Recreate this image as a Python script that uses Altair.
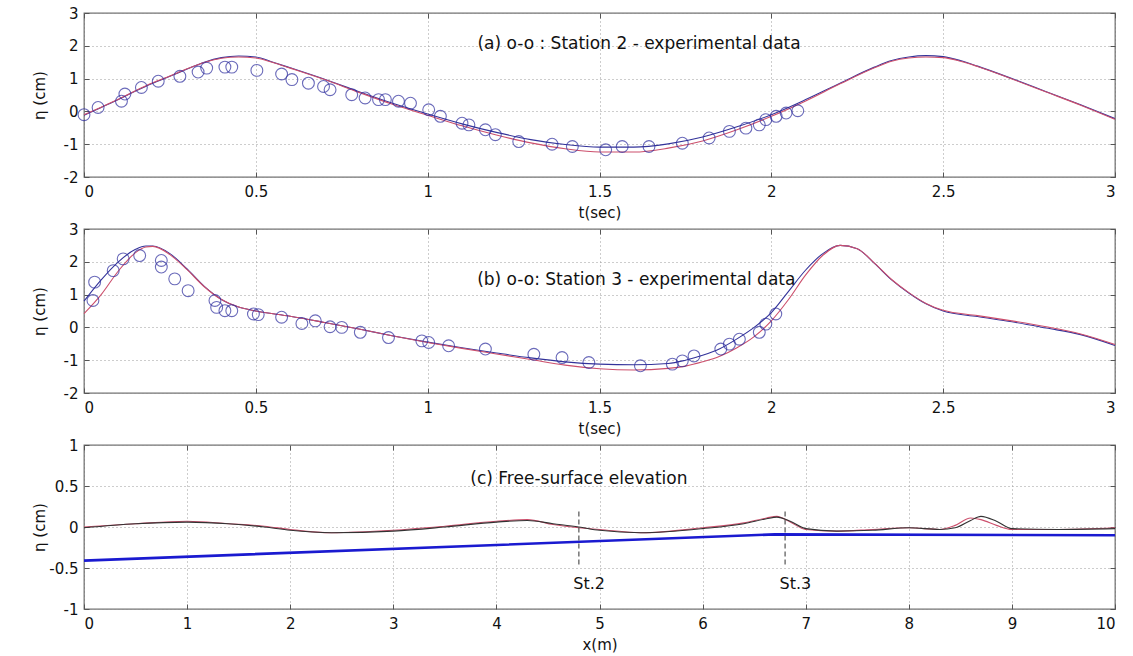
import altair as alt
import pandas as pd

# ---------------- Panel (a): Station 2 ----------------
a_t = [0.0, 0.05, 0.10, 0.15, 0.20, 0.25, 0.30, 0.35, 0.40, 0.45, 0.50, 0.55, 0.60,
       0.70, 0.80, 0.90, 1.00, 1.10, 1.20, 1.30, 1.40, 1.50, 1.60, 1.70, 1.80, 1.90,
       2.00, 2.10, 2.20, 2.30, 2.35, 2.40, 2.45, 2.50, 2.55, 2.60, 2.70, 2.80, 2.90, 3.00]
a_blue = [-0.12, 0.12, 0.36, 0.62, 0.86, 1.07, 1.29, 1.50, 1.64, 1.69, 1.66, 1.50, 1.33,
          0.98, 0.60, 0.24, -0.08, -0.38, -0.64, -0.86, -1.01, -1.09, -1.09, -0.99, -0.78, -0.47,
          -0.10, 0.36, 0.86, 1.35, 1.55, 1.66, 1.70, 1.67, 1.55, 1.38, 1.00, 0.60, 0.20, -0.22]
a_red = [-0.10, 0.13, 0.37, 0.63, 0.87, 1.08, 1.30, 1.49, 1.62, 1.66, 1.63, 1.49, 1.32,
         0.97, 0.58, 0.21, -0.12, -0.44, -0.72, -0.96, -1.14, -1.24, -1.24, -1.12, -0.90, -0.56,
         -0.15, 0.32, 0.84, 1.33, 1.53, 1.63, 1.66, 1.64, 1.53, 1.37, 0.99, 0.59, 0.19, -0.24]
a_obs_t = [0.0, 0.041, 0.109, 0.119, 0.167, 0.216, 0.279, 0.332, 0.357, 0.41, 0.43, 0.503,
           0.575, 0.605, 0.653, 0.697, 0.716, 0.779, 0.818, 0.857, 0.877, 0.915, 0.95, 1.003,
           1.037, 1.10, 1.12, 1.168, 1.197, 1.265, 1.362, 1.421, 1.518, 1.566, 1.644, 1.741,
           1.819, 1.878, 1.926, 1.965, 1.984, 2.014, 2.043, 2.077]
a_obs_v = [-0.10, 0.12, 0.31, 0.53, 0.73, 0.92, 1.07, 1.20, 1.32, 1.35, 1.35, 1.25,
           1.14, 0.97, 0.86, 0.76, 0.66, 0.51, 0.41, 0.36, 0.36, 0.31, 0.25, 0.05,
           -0.15, -0.36, -0.41, -0.56, -0.71, -0.92, -1.00, -1.07, -1.17, -1.07, -1.07, -0.97,
           -0.81, -0.61, -0.51, -0.41, -0.25, -0.15, -0.05, 0.02]
a_label = "(a) o-o : Station 2 - experimental data"

# ---------------- Panel (b): Station 3 ----------------
b_t = [0.0, 0.05, 0.10, 0.15, 0.18, 0.20, 0.25, 0.30, 0.35, 0.40, 0.45, 0.50, 0.60, 0.70,
       0.80, 0.90, 1.00, 1.10, 1.20, 1.30, 1.40, 1.50, 1.60, 1.70, 1.75, 1.80, 1.85, 1.90,
       1.95, 2.00, 2.05, 2.10, 2.15, 2.20, 2.25, 2.30, 2.35, 2.40, 2.45, 2.50, 2.60, 2.70,
       2.80, 2.90, 3.00]
b_blue = [0.80, 1.45, 2.00, 2.38, 2.48, 2.48, 2.25, 1.78, 1.25, 0.85, 0.62, 0.50, 0.34, 0.15,
          -0.05, -0.26, -0.45, -0.62, -0.78, -0.93, -1.05, -1.12, -1.14, -1.10, -1.00, -0.85, -0.65, -0.35,
          0.00, 0.45, 1.10, 1.75, 2.25, 2.50, 2.40, 1.95, 1.45, 1.05, 0.72, 0.50, 0.33, 0.17,
          -0.02, -0.22, -0.55]
b_red = [0.42, 1.00, 1.72, 2.28, 2.45, 2.47, 2.22, 1.76, 1.24, 0.85, 0.62, 0.50, 0.34, 0.15,
         -0.05, -0.26, -0.46, -0.64, -0.81, -0.98, -1.15, -1.26, -1.30, -1.25, -1.18, -1.05, -0.88, -0.62,
         -0.28, 0.20, 0.85, 1.60, 2.20, 2.50, 2.40, 1.96, 1.46, 1.06, 0.73, 0.52, 0.36, 0.20,
         0.02, -0.20, -0.52]
b_obs_t = [0.026, 0.031, 0.085, 0.114, 0.162, 0.225, 0.225, 0.264, 0.303, 0.381, 0.386, 0.41,
           0.43, 0.493, 0.507, 0.575, 0.634, 0.673, 0.716, 0.75, 0.804, 0.886, 0.983, 1.003,
           1.061, 1.168, 1.309, 1.391, 1.469, 1.619, 1.712, 1.741, 1.775, 1.853, 1.878, 1.907,
           1.965, 1.984, 2.013]
b_obs_v = [0.82, 1.38, 1.73, 2.09, 2.19, 2.04, 1.84, 1.48, 1.12, 0.82, 0.61, 0.51,
           0.51, 0.41, 0.39, 0.31, 0.12, 0.20, 0.02, 0.00, -0.15, -0.31, -0.41, -0.46,
           -0.56, -0.66, -0.82, -0.92, -1.07, -1.17, -1.12, -1.02, -0.87, -0.66, -0.51, -0.36,
           -0.15, 0.10, 0.41]
b_label = "(b) o-o: Station 3 - experimental data"

# ---------------- Panel (c): free surface ----------------
c_x = [0.0, 0.5, 1.0, 1.4, 1.75, 2.0, 2.4, 3.0, 3.5, 4.0, 4.3, 4.55, 4.8, 5.0, 5.4, 6.0,
       6.4, 6.62, 6.72, 6.85, 7.0, 7.3, 7.65, 8.0, 8.3, 8.45, 8.6, 8.7, 8.85, 9.0, 9.45, 10.0]
c_red = [0.00, 0.04, 0.07, 0.04, 0.01, -0.03, -0.07, -0.04, 0.01, 0.07, 0.09, 0.03, -0.01,
         -0.03, -0.07, -0.01, 0.05, 0.11, 0.13, 0.06, -0.03, -0.05, -0.03, -0.01, -0.03, 0.02,
         0.11, 0.09, 0.02, -0.03, -0.03, -0.01]
c_dark = [-0.01, 0.04, 0.06, 0.04, 0.00, -0.04, -0.07, -0.05, 0.00, 0.06, 0.08, 0.04, 0.00,
          -0.04, -0.07, -0.02, 0.04, 0.10, 0.12, 0.07, -0.02, -0.05, -0.04, -0.01, -0.03, -0.01,
          0.08, 0.13, 0.07, -0.02, -0.03, -0.02]
bed_x = [0.0, 6.7, 10.0]
bed_y = [-0.41, -0.09, -0.10]
st_x = [4.8, 6.8]
st_top = [0.19, 0.19]
st_bot = [-0.46, -0.46]
st_names = ["St.2", "St.3"]
st_label_x = [4.9, 6.9]
st_label_y = [-0.70, -0.70]
c_label = "(c) Free-surface elevation"

FONT = "DejaVu Sans"
W, H = 1031, 164
SER = ["blue", "red", "dark"]
SER_COL = ["#33339a", "#cc4f6c", "#333333"]
TXT = "#111111"


def fmt_axis(values, title, orient, **kw):
    return alt.Axis(values=values, title=title, orient=orient, grid=True,
                    gridDash=[1, 3], gridColor="#9a9a9a", gridWidth=1,
                    offset=-5, tickSize=5, tickColor="#555", domain=False,
                    labelFont=FONT, labelFontSize=15, labelColor=TXT,
                    titleFont=FONT, titleFontSize=15, titleFontWeight="normal",
                    titleColor=TXT,
                    labelExpr="datum.value + ''", **kw)


def panel(line_rows, obs_rows, extra_layers, text_row, xdom, ydom, xticks, yticks, xtitle):
    xs = alt.Scale(domain=xdom, nice=False, zero=False)
    ys = alt.Scale(domain=ydom, nice=False, zero=False)
    ldf = pd.DataFrame(line_rows)
    lines = alt.Chart(ldf).mark_line(strokeWidth=1.1, interpolate="monotone").encode(
        x=alt.X("x:Q", scale=xs,
                axis=fmt_axis(xticks, xtitle, "bottom", labelPadding=7, titlePadding=6)),
        y=alt.Y("y:Q", scale=ys,
                axis=fmt_axis(yticks, "η (cm)", "left", labelPadding=6, titleX=-42)),
        color=alt.Color("s:N", scale=alt.Scale(domain=SER, range=SER_COL), legend=None),
        detail="s:N",
    )
    layers = [lines]
    if obs_rows is not None:
        odf = pd.DataFrame(obs_rows)
        layers.append(alt.Chart(odf).mark_point(shape="circle", filled=False, size=140,
                                                strokeWidth=1.1, color="#2d2d9e").encode(
            x=alt.X("x:Q", scale=xs, axis=None), y=alt.Y("y:Q", scale=ys, axis=None)))
    layers += extra_layers(xs, ys)
    tdf = pd.DataFrame([text_row])
    layers.append(alt.Chart(tdf).mark_text(font=FONT, fontSize=17, color=TXT).encode(
        x=alt.X("x:Q", scale=xs, axis=alt.Axis(values=xticks, orient="top", labels=False,
                                                title=None, grid=False, offset=-5, tickSize=5,
                                                tickColor="#555", domain=False)),
        y=alt.Y("y:Q", scale=ys, axis=alt.Axis(values=yticks, orient="right", labels=False,
                                                title=None, grid=False, offset=-5, tickSize=5,
                                                tickColor="#555", domain=False)),
        text="label:N"))
    return alt.layer(*layers).resolve_axis(x="independent", y="independent").properties(
        width=W, height=H)


def no_extra(xs, ys):
    return []


def c_extra(xs, ys):
    bdf = pd.DataFrame({"x": bed_x, "y": bed_y})
    bed = alt.Chart(bdf).mark_line(strokeWidth=2.6, color="#1a1ad0").encode(
        x=alt.X("x:Q", scale=xs, axis=None), y=alt.Y("y:Q", scale=ys, axis=None))
    sdf = pd.DataFrame({"x": st_x, "y": st_top, "y2": st_bot})
    rules = alt.Chart(sdf).mark_rule(strokeDash=[5, 3], color="#444", strokeWidth=1.1).encode(
        x=alt.X("x:Q", scale=xs, axis=None), y=alt.Y("y:Q", scale=ys, axis=None), y2="y2:Q")
    ldf = pd.DataFrame({"x": st_label_x, "y": st_label_y, "t": st_names})
    labs = alt.Chart(ldf).mark_text(font=FONT, fontSize=16, color=TXT).encode(
        x=alt.X("x:Q", scale=xs, axis=None), y=alt.Y("y:Q", scale=ys, axis=None), text="t:N")
    return [bed, rules, labs]


def rows(xv, series):
    out = []
    for name, yv in series:
        for xx, yy in zip(xv, yv):
            out.append({"x": xx, "y": yy, "s": name})
    return out


pa = panel(rows(a_t, [("blue", a_blue), ("red", a_red)]),
           {"x": a_obs_t, "y": a_obs_v}, no_extra,
           {"x": 1.615, "y": 2.04, "label": a_label},
           [0, 3], [-2, 3], [0, 0.5, 1, 1.5, 2, 2.5, 3], [-2, -1, 0, 1, 2, 3], "t(sec)")
pb = panel(rows(b_t, [("blue", b_blue), ("red", b_red)]),
           {"x": b_obs_t, "y": b_obs_v}, no_extra,
           {"x": 1.607, "y": 1.43, "label": b_label},
           [0, 3], [-2, 3], [0, 0.5, 1, 1.5, 2, 2.5, 3], [-2, -1, 0, 1, 2, 3], "t(sec)")
pc = panel(rows(c_x, [("red", c_red), ("dark", c_dark)]),
           None, c_extra,
           {"x": 4.8, "y": 0.59, "label": c_label},
           [0, 10], [-1, 1], list(range(11)), [-1, -0.5, 0, 0.5, 1], "x(m)")

chart = alt.vconcat(pa, pb, pc, spacing=0).properties(
    background="white",
    padding={"left": 31, "top": 5, "right": 5, "bottom": 5},
).configure_view(
    stroke="#707070", strokeWidth=1.3
).configure_axis(
    labelFont=FONT, labelFontSize=15, labelColor=TXT,
    titleFont=FONT, titleFontSize=15, titleFontWeight="normal", titleColor=TXT
)

chart.save("out.html", embed_options={"renderer": "svg", "actions": False})
